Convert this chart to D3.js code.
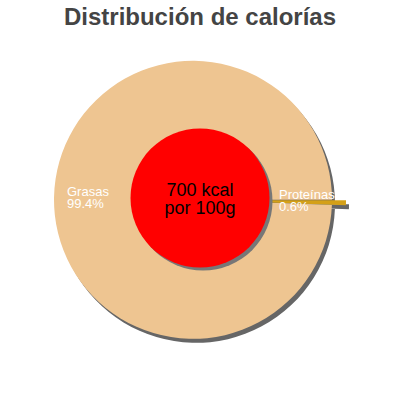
<html>
  <head>
    <meta charset="utf-8">
    <script src="https://d3js.org/d3.v7.min.js"></script>
    <style>
      body { margin:0; background:#fff; }
      text { font-family: "Liberation Sans", Arial, sans-serif; }
    </style>
  </head>
  <body>
    <script>
      var categories=["Grasas","Proteínas"];
      var values=[99.4,0.6];
      var pctLabels=["99.4%","0.6%"];
      var colors=["#eec591","#d4a017"];
      var centerLines=["700 kcal","por 100g"];
      var title="Distribución de calorías";

      var width=400, height=400;
      var cx=200, cy=200, radius=139, pull=7;

      var svg=d3.select('body').append('svg')
                .attr('width',width)
                .attr('height',height);

      svg.append('text')
         .attr('x',200)
         .attr('y',25)
         .attr('text-anchor','middle')
         .attr('font-size',24)
         .attr('font-weight','bold')
         .attr('fill','#444')
         .text(title);

      var data=categories.map(function(c,i){ return {name:c,value:values[i],pct:pctLabels[i],color:colors[i]}; });

      // protein slice sits just below 3 o'clock
      var pie=d3.pie().sort(null).value(function(d){ return d.value; })
                .startAngle(Math.PI/2+2*Math.PI*values[1]/100)
                .endAngle(Math.PI/2+2*Math.PI*values[1]/100+2*Math.PI);
      var arc=d3.arc().innerRadius(0).outerRadius(radius);
      var arcs=pie(data);

      function offset(d){
        var a=(d.startAngle+d.endAngle)/2;
        return [Math.sin(a)*pull, -Math.cos(a)*pull];
      }

      var g=svg.append('g').attr('transform','translate('+cx+','+cy+')');

      // shadows
      g.selectAll('path.shadow').data(arcs).enter().append('path')
       .attr('class','shadow')
       .attr('d',arc)
       .attr('fill','#666')
       .attr('transform',function(d){ var o=offset(d); return 'translate('+(o[0]+3)+','+(o[1]+4)+')'; });

      g.selectAll('path.slice').data(arcs).enter().append('path')
       .attr('class','slice')
       .attr('d',arc)
       .attr('fill',function(d){ return d.data.color; })
       .attr('transform',function(d){ var o=offset(d); return 'translate('+o[0]+','+o[1]+')'; });

      // center circle
      svg.append('circle').attr('cx',cx+3).attr('cy',198+3).attr('r',69.5).attr('fill','#777');
      svg.append('circle').attr('cx',cx).attr('cy',198).attr('r',69.5).attr('fill','#ff0000');

      svg.selectAll('text.center').data(centerLines).enter().append('text')
         .attr('class','center')
         .attr('x',cx)
         .attr('y',function(d,i){ return 196+i*18; })
         .attr('text-anchor','middle')
         .attr('font-size',18)
         .attr('fill','#000')
         .text(function(d){ return d; });

      // slice labels
      var labelPos=[[67,196],[279,199]];
      data.forEach(function(d,i){
        var t=svg.append('text')
                 .attr('x',labelPos[i][0])
                 .attr('y',labelPos[i][1])
                 .attr('font-size',13)
                 .attr('fill','#fff');
        t.append('tspan').attr('x',labelPos[i][0]).text(d.name);
        t.append('tspan').attr('x',labelPos[i][0]).attr('dy',11.5).text(d.pct);
      });
    </script>
  </body>
</html>
